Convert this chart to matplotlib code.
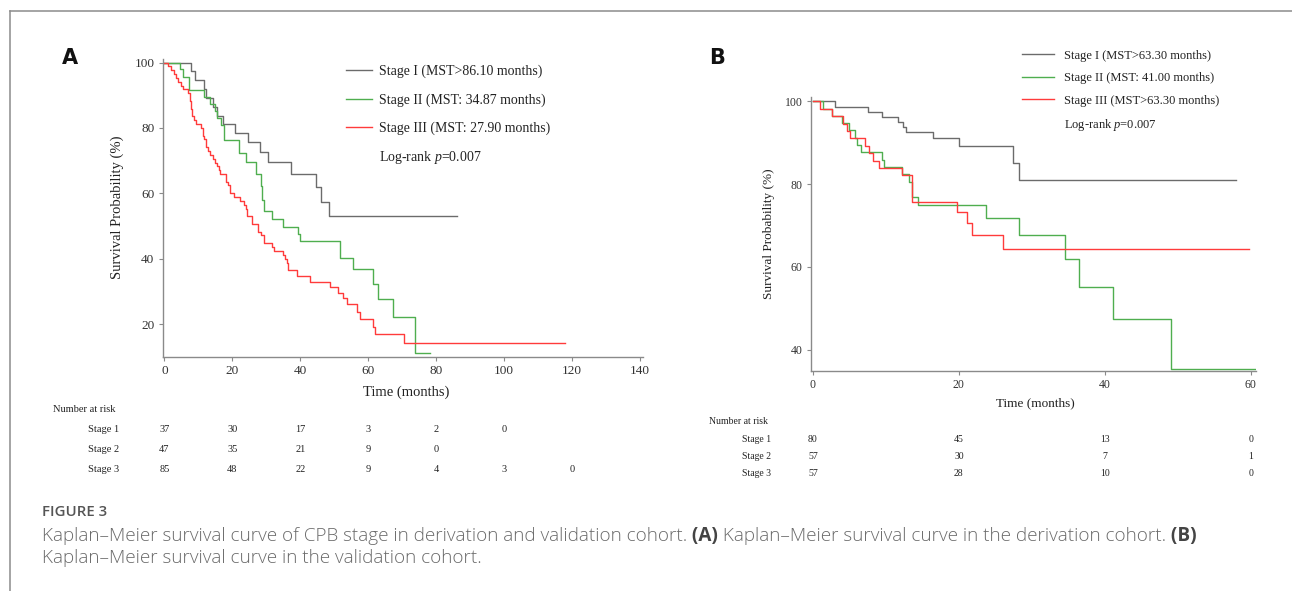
import matplotlib
matplotlib.use("Agg")
import matplotlib.pyplot as plt
from matplotlib.lines import Line2D

plt.rcParams['font.family'] = ['Liberation Serif', 'DejaVu Serif']
plt.rcParams['mathtext.fontset'] = 'custom'
plt.rcParams['mathtext.rm'] = 'Liberation Serif'
plt.rcParams['mathtext.it'] = 'Liberation Serif:italic'

# ---- panel A (derivation cohort): event times (months) and survival (%) after each drop
a1_time = [7.9, 9.1, 11.6, 12.2, 14.4, 15.5, 17.4, 20.8, 24.5, 28.2, 30.5, 37.3, 44.6, 46.1, 48.5]
a1_surv = [97.3, 94.6, 91.9, 89.2, 86.5, 83.8, 81.1, 78.4, 75.7, 72.7, 69.6, 65.9, 61.8, 57.4, 53.0]
a1_end = 86.1

a2_time = [4.7, 5.6, 7.1, 11.8, 13.4, 14.9, 15.6, 16.8, 17.6, 22.0, 24.0, 27.1, 28.3, 28.8, 29.3,
           31.7, 34.8, 39.4, 40.0, 51.7, 55.6, 61.3, 62.9, 67.4, 73.8]
a2_surv = [97.9, 95.7, 91.5, 89.4, 87.2, 85.1, 83.0, 80.9, 76.2, 72.2, 69.5, 65.8, 62.2, 58.1, 54.5,
           52.2, 49.8, 47.5, 45.4, 40.3, 36.8, 32.1, 27.7, 22.0, 11.1]
a2_end = 78.1

a3_time = [1.0, 1.8, 2.8, 3.5, 4.1, 5.0, 5.6, 7.0, 7.4, 7.8, 8.2, 8.6, 9.3, 10.8, 11.3, 11.8, 12.2,
           12.7, 13.3, 14.3, 14.9, 15.6, 16.0, 16.3, 18.2, 18.8, 19.3, 20.6, 22.2, 23.5, 23.9, 24.2,
           25.9, 27.7, 28.4, 29.2, 31.8, 32.3, 34.9, 35.4, 36.1, 36.5, 38.9, 43.0, 48.8, 51.2, 52.6,
           53.8, 56.6, 57.6, 61.4, 62.0, 70.5]
a3_surv = [98.8, 97.6, 96.5, 95.3, 94.1, 92.9, 91.8, 90.6, 88.2, 85.9, 83.5, 82.4, 81.2, 80.0, 77.6,
           76.5, 74.1, 72.9, 71.8, 70.6, 69.4, 68.2, 67.1, 65.9, 63.5, 62.4, 60.0, 58.8, 57.6, 56.5,
           55.3, 52.9, 50.6, 48.2, 47.1, 44.7, 43.5, 42.4, 41.2, 40.0, 38.8, 36.5, 34.8, 32.9, 31.2,
           29.5, 27.9, 26.1, 23.8, 21.6, 19.2, 16.8, 14.2]
a3_end = 118.0

a_labels = ["Stage I (MST>86.10 months)", "Stage II (MST: 34.87 months)", "Stage III (MST: 27.90 months)"]
a_risk_times = [0, 20, 40, 60, 80, 100, 120]
a_risk = [[37, 30, 17, 3, 2, 0],
          [47, 35, 21, 9, 0],
          [85, 48, 22, 9, 4, 3, 0]]

# ---- panel B (validation cohort)
b1_time = [3.0, 7.5, 9.5, 11.7, 12.4, 12.7, 16.4, 20.0, 27.4, 28.3]
b1_surv = [98.7, 97.5, 96.2, 95.0, 93.7, 92.5, 91.1, 89.1, 85.0, 81.0]
b1_end = 58.0

b2_time = [1.4, 2.6, 4.0, 5.0, 5.7, 6.1, 6.6, 9.5, 9.8, 12.2, 13.2, 13.6, 14.4, 23.7, 28.3, 34.5,
           36.4, 41.1, 49.0]
b2_surv = [98.2, 96.5, 94.7, 93.0, 91.2, 89.5, 87.7, 85.9, 84.2, 82.4, 80.6, 76.9, 74.9, 71.7, 67.6,
           62.0, 55.0, 47.3, 35.4]
b2_end = 60.7

b3_time = [1.0, 2.6, 4.1, 4.7, 5.1, 7.2, 7.7, 8.2, 9.0, 12.2, 13.6, 19.7, 21.1, 21.8, 26.1]
b3_surv = [98.2, 96.4, 94.6, 92.8, 91.1, 89.3, 87.5, 85.7, 83.9, 82.1, 75.7, 73.2, 70.5, 67.6, 64.2]
b3_end = 59.7

b_labels = ["Stage I (MST>63.30 months)", "Stage II (MST: 41.00 months)", "Stage III (MST>63.30 months)"]
b_risk_times = [0, 20, 40, 60]
b_risk = [[80, 45, 13, 0],
          [57, 30, 7, 1],
          [57, 28, 10, 0]]

risk_rows = ["Stage 1", "Stage 2", "Stage 3"]
colors = ["#6b6b6b", "#4fae4f", "#ff3b3b"]
W, H = 1292, 591


def km(ax, times, surv, end, color):
    t = [0] + times + [end]
    s = [100] + surv + [surv[-1]]
    return ax.step(t, s, where='post', color=color, lw=1.0)[0]


def style(ax, fs):
    for sp in ['top', 'right']:
        ax.spines[sp].set_visible(False)
    for sp in ['left', 'bottom']:
        ax.spines[sp].set_color('#8a8a8a')
        ax.spines[sp].set_linewidth(1.0)
    ax.tick_params(direction='out', length=3, width=0.8, color='#8a8a8a',
                   labelsize=fs, labelcolor='#333333', pad=3)


fig = plt.figure(figsize=(W / 100, H / 100), dpi=100)

# border of the figure panel
fig.add_artist(Line2D([9.5 / W, 1], [1 - 10.5 / H] * 2, color='#8c8c8c', lw=1.1))
fig.add_artist(Line2D([9.5 / W] * 2, [0, 1 - 10.5 / H], color='#8c8c8c', lw=1.1))

# ---------------- panel A
axA = fig.add_axes([162.7 / W, 1 - 356.7 / H, 480.6 / W, 297.4 / H])
hA = [km(axA, a1_time, a1_surv, a1_end, colors[0]),
      km(axA, a2_time, a2_surv, a2_end, colors[1]),
      km(axA, a3_time, a3_surv, a3_end, colors[2])]
axA.set_xlim(-0.5, 141)
axA.set_ylim(10, 101)
axA.set_xticks(range(0, 141, 20))
axA.set_yticks([20, 40, 60, 80, 100])
style(axA, 9.5)
axA.set_xlabel("Time (months)", fontsize=10.5, color='#222222')
axA.set_ylabel("Survival Probability (%)", fontsize=10.5, color='#222222')
axA.xaxis.set_label_coords(0.506, -0.098)
axA.yaxis.set_label_coords(-0.080, 0.503)
blank = Line2D([], [], color='none')
axA.legend(hA + [blank], a_labels + [r"Log-rank $p$=0.007"], loc='upper left',
           bbox_to_anchor=(345.7 / W, 1 - 65 / H), bbox_transform=fig.transFigure,
           frameon=False, fontsize=10, borderpad=0, borderaxespad=0,
           handlelength=1.9, handletextpad=0.5, labelspacing=1.05, labelcolor='#222222')

fig.text(70 / W, 1 - 58 / H, "A", family='DejaVu Sans', fontweight='bold', fontsize=15,
         ha='center', va='center', color='#111111')

# risk table A
fig.text(53 / W, 1 - 410 / H, "Number at risk", fontsize=7.5, va='center', color='#222222')
for i, row in enumerate(a_risk):
    yy = 1 - (430 + 19.5 * i) / H
    fig.text(119 / W, yy, risk_rows[i], fontsize=7.5, ha='right', va='center', color='#222222')
    for t, n in zip(a_risk_times, row):
        xf = fig.transFigure.inverted().transform(axA.transData.transform((t, 0)))[0]
        fig.text(xf, yy, str(n), fontsize=7.5, ha='center', va='center', color='#222222')

# ---------------- panel B
axB = fig.add_axes([810.7 / W, 1 - 371 / H, 445.3 / W, 273.7 / H])
hB = [km(axB, b1_time, b1_surv, b1_end, colors[0]),
      km(axB, b2_time, b2_surv, b2_end, colors[1]),
      km(axB, b3_time, b3_surv, b3_end, colors[2])]
axB.set_xlim(-0.3, 60.7)
axB.set_ylim(34.8, 101)
axB.set_xticks([0, 20, 40, 60])
axB.set_yticks([40, 60, 80, 100])
style(axB, 8.5)
axB.set_xlabel("Time (months)", fontsize=9.5, color='#222222')
axB.set_ylabel("Survival Probability (%)", fontsize=9.5, color='#222222')
axB.xaxis.set_label_coords(0.504, -0.097)
axB.yaxis.set_label_coords(-0.080, 0.50)
axB.legend(hB + [blank], b_labels + [r"Log-rank $p$=0.007"], loc='upper left',
           bbox_to_anchor=(1022.3 / W, 1 - 49.5 / H), bbox_transform=fig.transFigure,
           frameon=False, fontsize=9, borderpad=0, borderaxespad=0,
           handlelength=2.5, handletextpad=0.8, labelspacing=0.85, labelcolor='#222222')

fig.text(717 / W, 1 - 58 / H, "B", family='DejaVu Sans', fontweight='bold', fontsize=15,
         ha='center', va='center', color='#111111')

fig.text(709 / W, 1 - 421 / H, "Number at risk", fontsize=7, va='center', color='#222222')
for i, row in enumerate(b_risk):
    yy = 1 - (439 + 17.5 * i) / H
    fig.text(771 / W, yy, risk_rows[i], fontsize=7, ha='right', va='center', color='#222222')
    for t, n in zip(b_risk_times, row):
        xf = fig.transFigure.inverted().transform(axB.transData.transform((t, 0)))[0]
        fig.text(xf, yy, str(n), fontsize=7, ha='center', va='center', color='#222222')

# ---------------- caption
cap_font = ['Open Sans', 'DejaVu Sans']
fig.text(42 / W, 1 - 512 / H, "FIGURE 3", family=cap_font, fontsize=10.8, color='#555555',
         fontweight='semibold', va='center')

renderer = fig.canvas.get_renderer()


def runs(parts, x, y):
    for s, bold in parts:
        t = fig.text(x, y, s, family=cap_font, fontsize=13.6, va='center',
                     fontweight='bold' if bold else 'light',
                     color='#444444' if bold else '#6a6a6a')
        x += t.get_window_extent(renderer=renderer).width / W


runs([("Kaplan\u2013Meier survival curve of CPB stage in derivation and validation cohort.", False),
      (" (A)", True),
      (" Kaplan\u2013Meier survival curve in the derivation cohort.", False),
      (" (B)", True)], 42 / W, 1 - 536 / H)
runs([("Kaplan\u2013Meier survival curve in the validation cohort.", False)], 42 / W, 1 - 558 / H)

fig.savefig("out.png", dpi=100)
